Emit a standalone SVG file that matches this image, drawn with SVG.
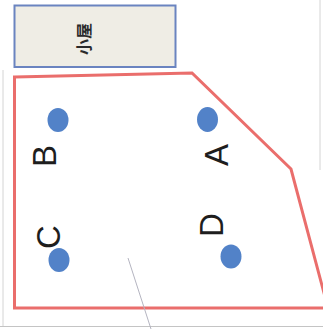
<svg xmlns="http://www.w3.org/2000/svg" width="323" height="329" viewBox="0 0 323 329">
<style>
.lbl{font-family:"Liberation Sans",Arial,sans-serif;font-size:33px;fill:#1e1e1e;text-anchor:middle}
.dot{fill:#5282c8}
.frame{stroke:#d4d4d4;stroke-width:1;fill:none}
</style>
<rect x="0" y="0" width="323" height="329" fill="#ffffff"/>
<g id="frame">
<line class="frame" x1="3" y1="70" x2="3" y2="326"/>
<line class="frame" x1="320" y1="0" x2="320" y2="170"/>
<line x1="0" y1="326.5" x2="323" y2="326.5" stroke="#c4c4c4" stroke-width="1.2"/>
</g>
<g id="hut">
<rect x="14.5" y="5.5" width="161" height="61.5" fill="#efede5" stroke="#6a84c0" stroke-width="2"/>
<text transform="translate(83,39) rotate(-90)" font-family="'Noto Sans CJK JP','Noto Sans CJK SC',sans-serif" font-size="16" font-weight="bold" fill="#2a2a2a" text-anchor="middle" dominant-baseline="central">小屋</text>
</g>
<g id="area">
<polygon points="14.5,77 192,73 291,169 328,308 14.5,308" fill="none" stroke="#ea6e6c" stroke-width="3"/>
</g>
<g id="connectors">
<line x1="128" y1="258" x2="151" y2="329" stroke="#b4b4c0" stroke-width="1"/>
</g>
<g id="B">
<ellipse class="dot" cx="58" cy="120" rx="10.5" ry="12"/>
<text class="lbl" transform="translate(56,156) rotate(-90)">B</text>
</g>
<g id="A">
<ellipse class="dot" cx="207.5" cy="119.5" rx="10.5" ry="12.5"/>
<text class="lbl" transform="translate(228,155) rotate(-90)">A</text>
</g>
<g id="C">
<ellipse class="dot" cx="59" cy="260" rx="10.5" ry="12"/>
<text class="lbl" transform="translate(60,237) rotate(-90)">C</text>
</g>
<g id="D">
<ellipse class="dot" cx="231" cy="256.5" rx="10.5" ry="12"/>
<text class="lbl" transform="translate(223,225) rotate(-90)">D</text>
</g>
</svg>
